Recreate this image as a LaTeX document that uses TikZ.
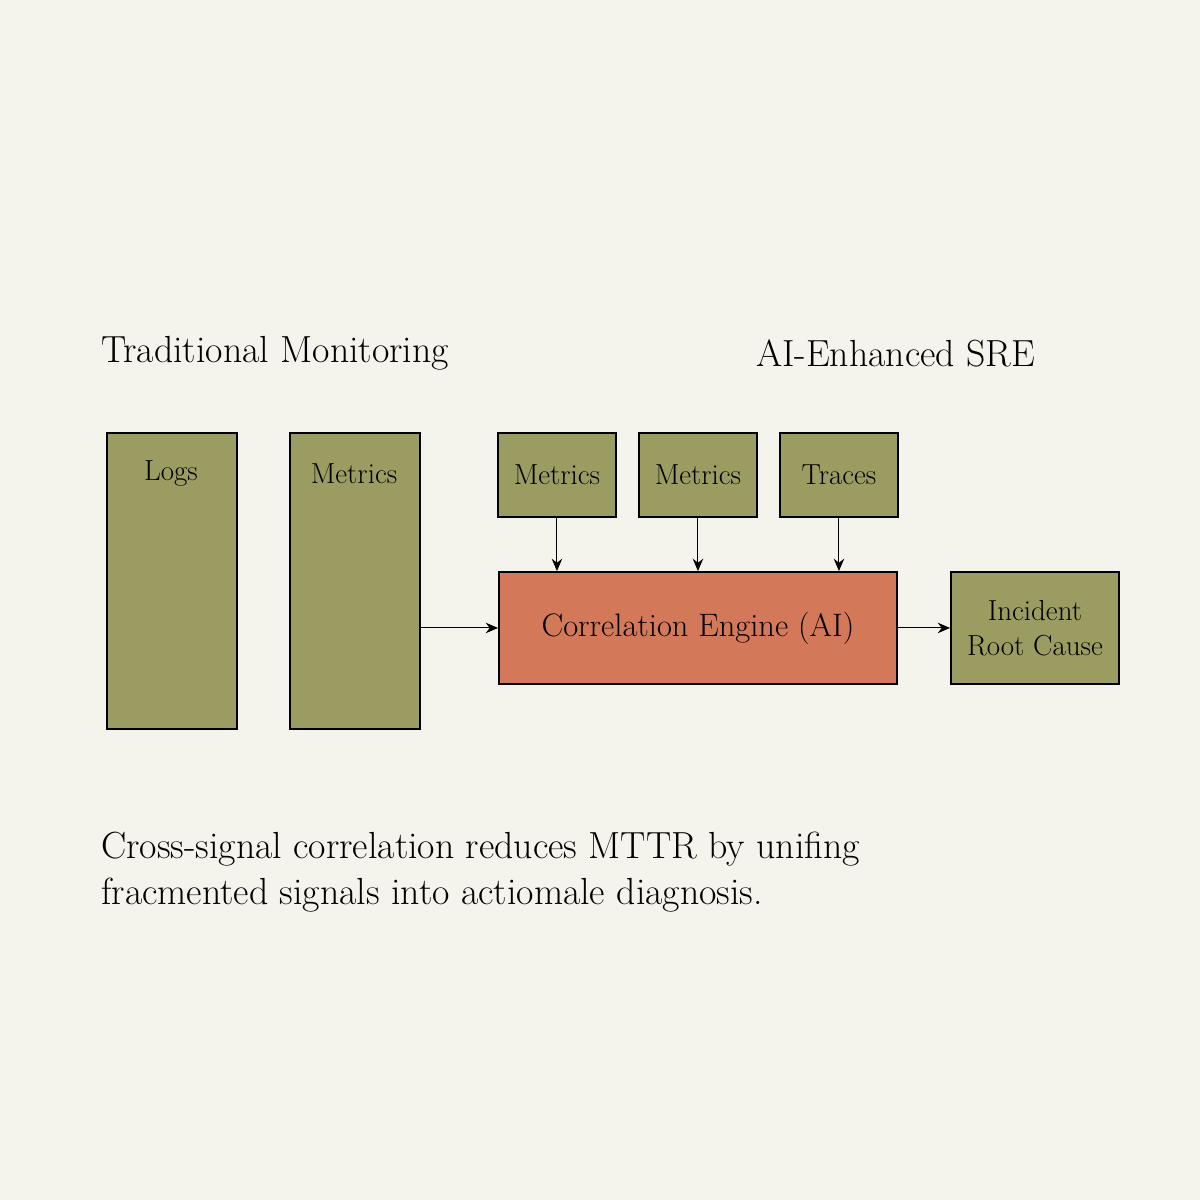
\documentclass[tikz,border=0pt]{standalone}
\usepackage{tikz}
\usetikzlibrary{arrows.meta,positioning}
\definecolor{paper}{HTML}{F5F4EC}
\definecolor{olive}{HTML}{9A9C62}
\definecolor{coral}{HTML}{D4785A}

\begin{document}
\begin{tikzpicture}[x=0.02cm, y=-0.02cm, >={Stealth[length=7pt,width=6pt]}]
\tikzset{
heading/.style  = {anchor=west, font=\fontsize{21.5}{26}\selectfont},
tall/.style     = {draw, line width=1.1pt, fill=olive, minimum width=2.6cm, minimum height=5.92cm, anchor=north west, inner sep=0pt},
signal/.style   = {draw, line width=1.1pt, fill=olive, minimum width=2.36cm, minimum height=1.68cm, anchor=north west, font=\fontsize{16.5}{19}\selectfont},
engine/.style   = {draw, line width=1.1pt, fill=coral, minimum width=7.96cm, minimum height=2.24cm, anchor=north west, font=\fontsize{18.5}{22}\selectfont},
result/.style   = {draw, line width=1.1pt, fill=olive, minimum width=3.36cm, minimum height=2.24cm, anchor=north west, align=center, font=\fontsize{16.5}{20}\selectfont},
}
    % Canvas
    \fill [paper] (0,0) rectangle (1200,1200);
    \useasboundingbox (0,0) rectangle (1200,1200);

    % Headings
    \node [heading] (trad_title) at (95,353) {Traditional Monitoring};
    \node [heading] (ai_title)   at (750,353) {AI-Enhanced SRE};

    % Traditional nodes
    \node [tall] (trad_logs)    at (106,432) {};
    \node [tall] (trad_metrics) at (289,432) {};
    \node [font=\fontsize{16.5}{19}\selectfont] at (171,474) {Logs};
    \node [font=\fontsize{16.5}{19}\selectfont] at (354,474) {Metrics};

    % AI nodes
    \node [signal] (ai_metrics_a) at (497,432) {Metrics};
    \node [signal] (ai_metrics_b) at (638,432) {Metrics};
    \node [signal] (ai_traces)    at (779,432) {Traces};
    \node [engine] (ai_engine)    at (498,571) {Correlation Engine (AI)};
    \node [result] (ai_cause)     at (950,571) {Incident\\Root Cause};

    % Edges
    \draw [->, semithick] (trad_metrics.east |- ai_engine.west) -- (ai_engine.west);
    \foreach \src in {ai_metrics_a, ai_metrics_b, ai_traces}
        \draw [->, semithick] (\src.south) -- (\src.south |- ai_engine.north);
    \draw [->, semithick] (ai_engine) -- (ai_cause);

    % Caption
    \node [anchor=north west, align=left, font=\fontsize{21.5}{26}\selectfont] (caption) at (95,826)
        {Cross-signal correlation reduces MTTR by unifing\\fracmented signals into actiomale diagnosis.};
\end{tikzpicture}
\end{document}
